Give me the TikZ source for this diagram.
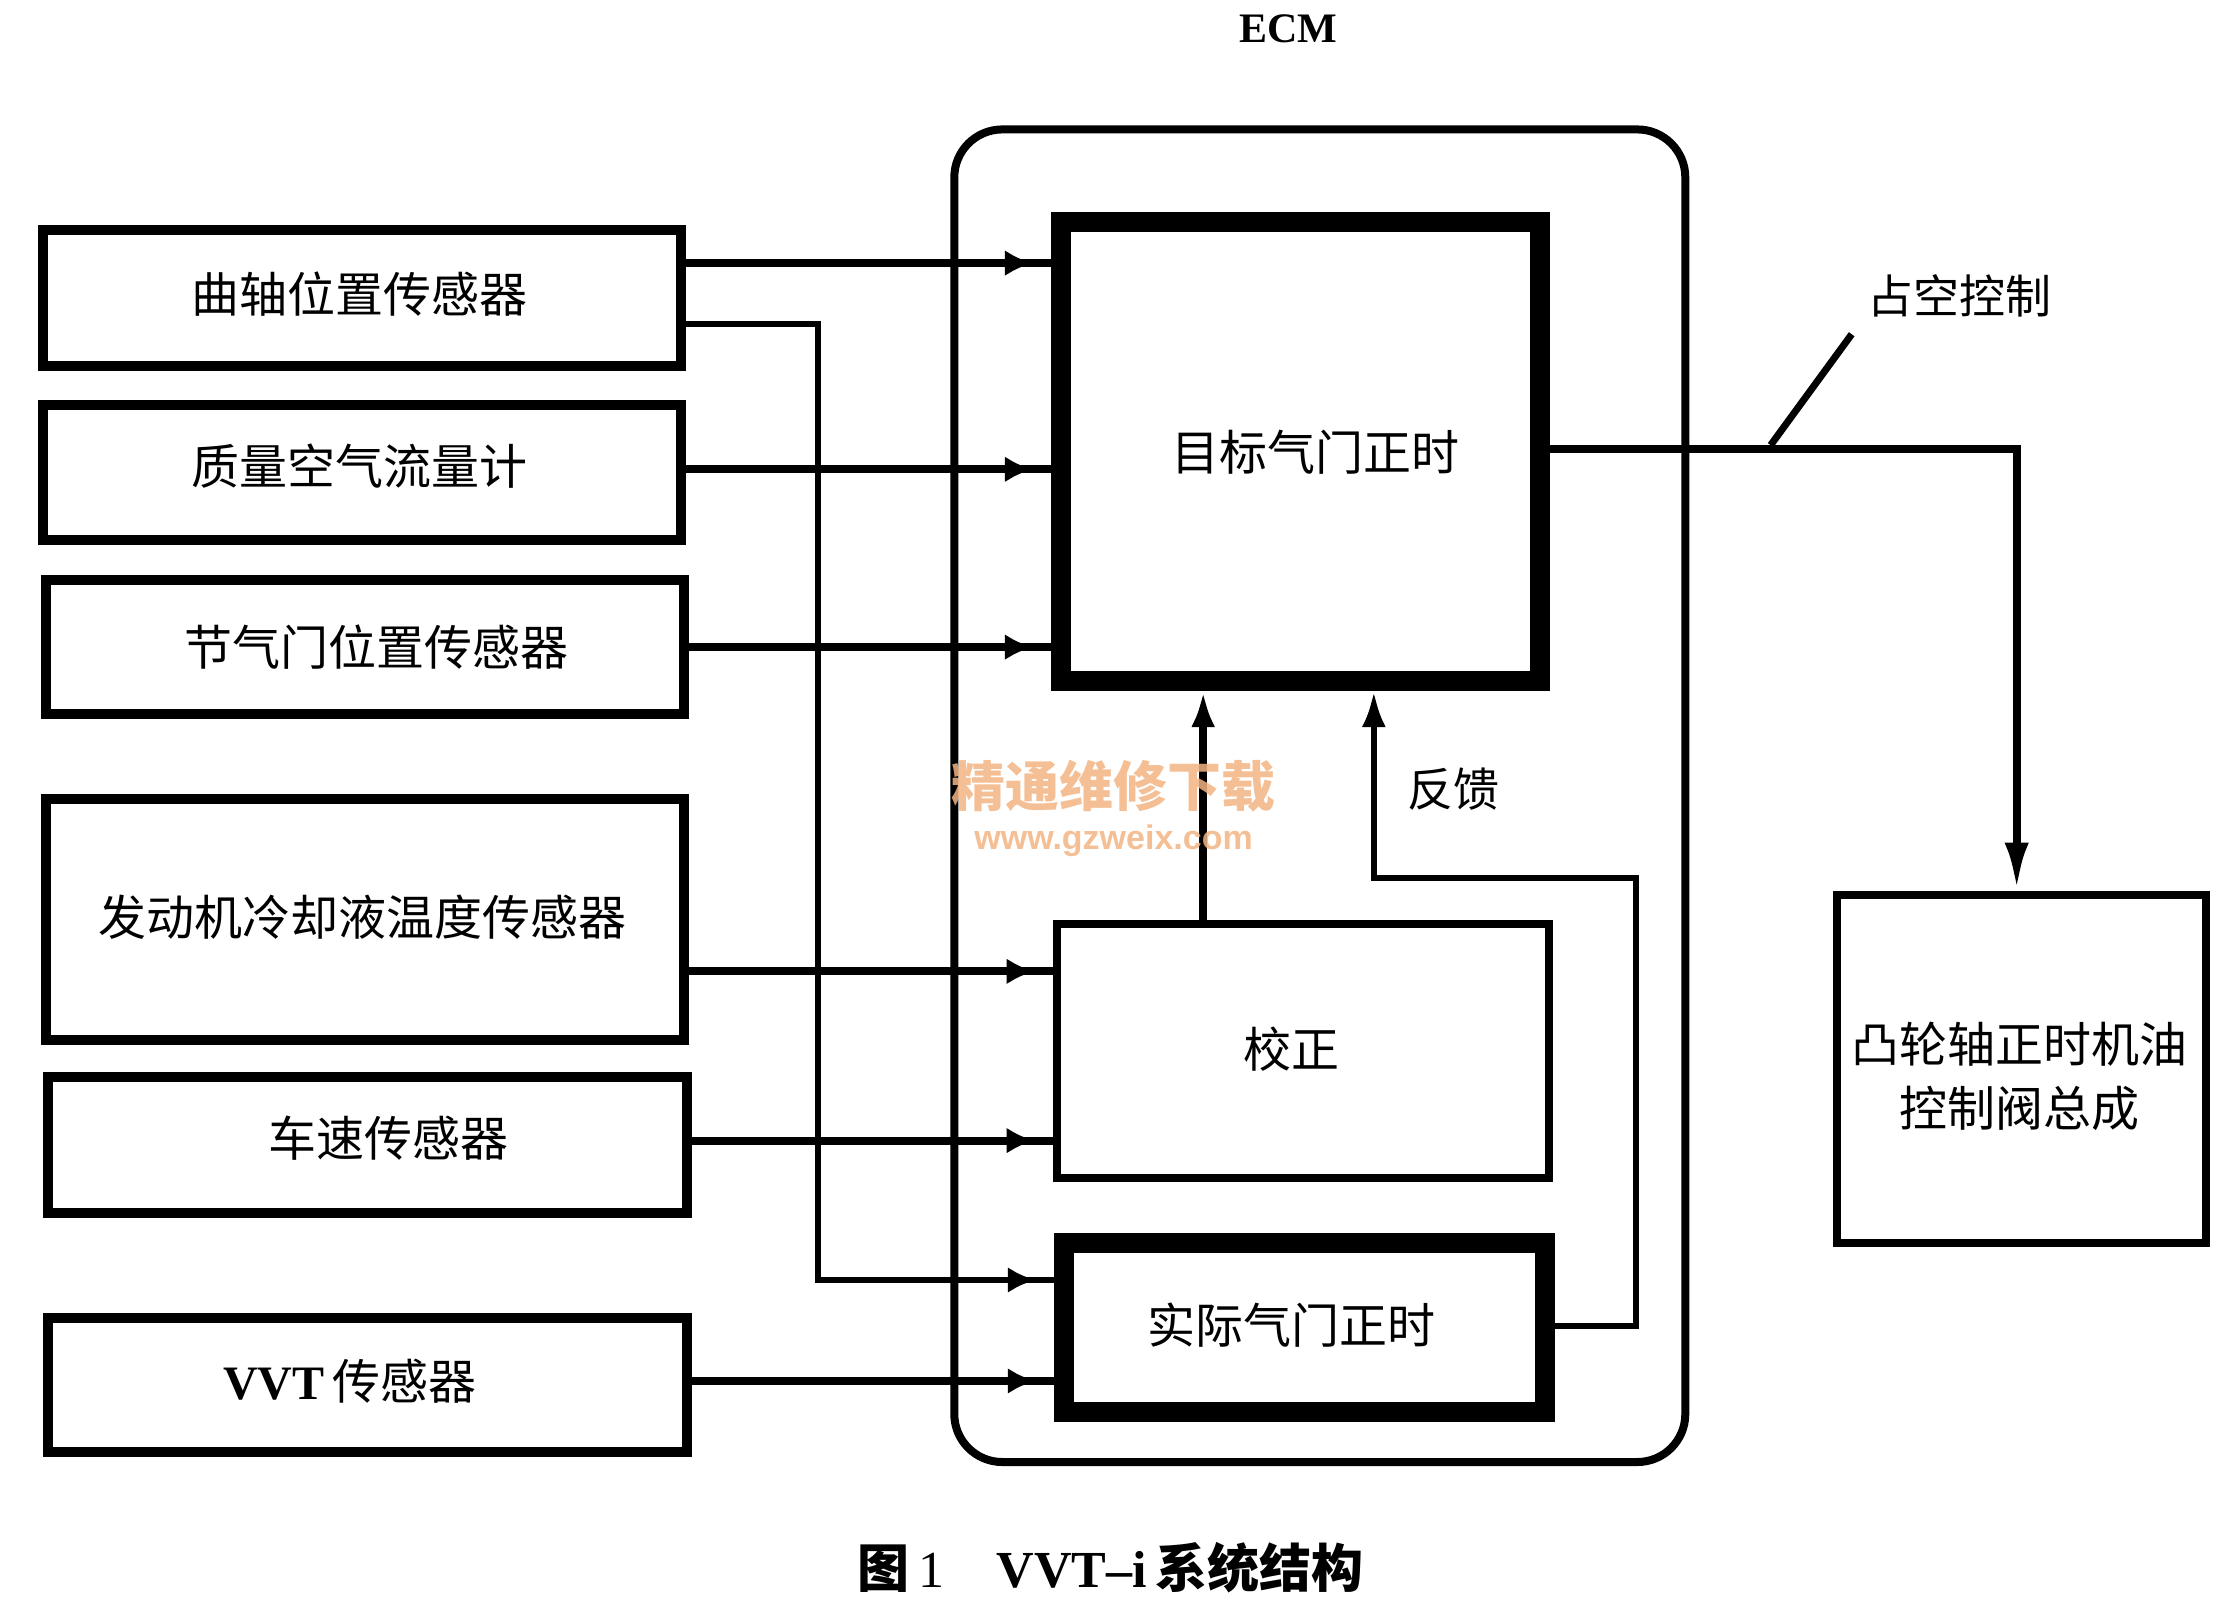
\documentclass[tikz,border=0pt]{standalone}
\usepackage{fontspec}
\setmainfont{Noto Sans CJK SC}
\newfontfamily\tnr{Liberation Serif}
\newfontfamily\wmsans{Liberation Sans}
\usetikzlibrary{arrows.meta,decorations.markings,fit}
\definecolor{wmcol}{RGB}{243,180,130}
\tikzset{
  sbox/.style={draw,line width=5pt,inner sep=0pt},
  lab/.style={font=\fontsize{24}{28}\selectfont,inner sep=0pt},
  conn/.style={line width=4pt},
  conn2/.style={line width=3pt},
  sig/.style={postaction={decorate},decoration={markings,
     mark=at position -9pt with {\arrow{Latex[length=14pt,width=13pt]}}}},
  upar/.style={-{Latex[length=18pt,width=12pt]}},
}
\begin{document}
\begin{tikzpicture}[x=0.7111pt,y=-0.7111pt]
\fill[white] (0,0) rectangle (1568,1135);
\useasboundingbox (0,0) rectangle (1568,1135);

% sensors
\node[sbox,fit={(30,162)(479,257)}] (b1) {};
\node[lab] (t1) at (253,207) {曲轴位置传感器};
\node[sbox,fit={(30,285)(479,380)}] (b2) {};
\node[lab] (t2) at (253,328) {质量空气流量计};
\node[sbox,fit={(32,408)(481,502)}] (b3) {};
\node[lab] (t3) at (265,455) {节气门位置传感器};
\node[sbox,fit={(32,562)(481,731)}] (b4) {};
\node[lab] (t4) at (255,645) {发动机冷却液温度传感器};
\node[sbox,fit={(34,757)(483,853)}] (b5) {};
\node[lab] (t5) at (273,800) {车速传感器};
\node[sbox,fit={(34,927)(483,1021)}] (b6) {};
\node[lab] (t6) at (246,971) {{\tnr\bfseries VVT}\,传感器};

% ECM
\node[draw,line width=4pt,rounded corners=24pt,inner sep=0pt,fit={(671,91)(1185,1028)}] (ecm) {};
\node[font=\tnr\bfseries\fontsize{21}{24}\selectfont,inner sep=0pt] (ecml) at (906,20) {ECM};

% inner blocks
\node[draw,line width=10pt,inner sep=0pt,fit={(746,156)(1083,479)}] (tg) {};
\node[lab] (ttg) at (925,318) {目标气门正时};
\node[draw,line width=4pt,inner sep=0pt,fit={(743,650)(1089,828)}] (cr) {};
\node[lab] (tcr) at (908,738) {校正};
\node[draw,line width=10pt,inner sep=0pt,fit={(748,874)(1086,993)}] (ac) {};
\node[lab] (tac) at (908,932) {实际气门正时};

% actuator
\node[draw,line width=4pt,inner sep=0pt,fit={(1292,629)(1551,874)}] (ocv) {};
\node[lab,align=center] (tocv) at (1420,757) {凸轮轴正时机油\\[4pt]控制阀总成};

% connectors
\draw[conn,sig] (b1.east |- 0,185) -- (tg.west |- 0,185);
\draw[conn2,sig] (b1.east |- 0,228) -| (575,900) -- (ac.west |- 0,900);
\draw[conn,sig] (b2.east |- 0,330) -- (tg.west |- 0,330);
\draw[conn,sig] (b3.east |- 0,455) -- (tg.west |- 0,455);
\draw[conn,sig] (b4.east |- 0,683) -- (cr.west |- 0,683);
\draw[conn,sig] (b5.east |- 0,802) -- (cr.west |- 0,802);
\draw[conn,sig] (b6.east |- 0,971) -- (ac.west |- 0,971);
\draw[conn,upar] (cr.north -| 846,0) -- (tg.south -| 846,0);
\draw[conn2,upar] (ac.east |- 0,932) -| (1150,617) -| (tg.south -| 966,0);
\node[lab,font=\fontsize{23}{26}\selectfont] (fb) at (1022,555) {反馈};
\draw[conn,-{Latex[length=24pt,width=12pt]}] (tg.east |- 0,316) -| (ocv.north -| 1418,0);

% duty label
\coordinate (dutyA) at (1245,313);
\coordinate (dutyB) at (1302,235);
\draw[line width=3.5pt] (dutyA) -- (dutyB);
\node[lab,font=\fontsize{23}{26}\selectfont] (duty) at (1378,208) {占空控制};

% caption
\node[inner sep=0pt,font=\fontsize{26}{30}\selectfont] (cap) at (781,1102)
  {{\bfseries 图}\,{\tnr 1}\hspace{1em}{\tnr\bfseries VVT–i}\,{\bfseries 系统结构}};

% watermark
\node[inner sep=0pt,text=wmcol,opacity=0.85,font=\bfseries\fontsize{27}{30}\selectfont] (wm1) at (783,553) {精通维修下载};
\node[inner sep=0pt,text=wmcol,opacity=0.85,font=\wmsans\bfseries\fontsize{17}{20}\selectfont] (wm2) at (783,591) {www.gzweix.com};
\end{tikzpicture}
\end{document}
